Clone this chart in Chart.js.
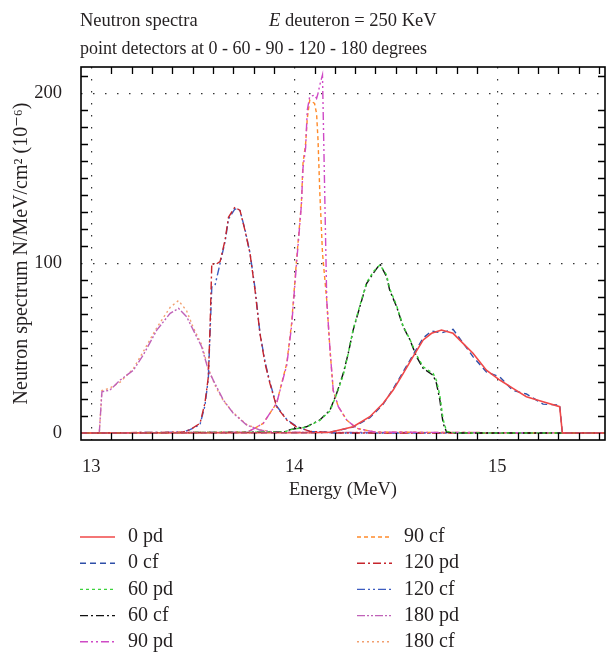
<!DOCTYPE html>
<html>
<head>
<meta charset="utf-8">
<script src="https://cdn.jsdelivr.net/npm/chart.js@4.4.0/dist/chart.umd.min.js"></script>
<style>
html, body { margin: 0; padding: 0; background: #fff; }
</style>
</head>
<body>
<canvas id="spectra" width="606" height="654"></canvas>
<script>
// energies (MeV), one list per detector angle
const energy0 = [12.95, 14.10, 14.176, 14.29, 14.372, 14.438, 14.487, 14.536, 14.585, 14.635, 14.676, 14.725, 14.782, 14.831, 14.88, 14.946, 15.012, 15.077, 15.143, 15.225, 15.307, 15.32, 15.53];
const pd0 = [0, 0.2, 0.5, 3.7, 9.6, 17.5, 25.3, 35, 45, 54.8, 58.7, 60.6, 58.7, 52.8, 47, 37, 31.2, 26.3, 21.4, 18.4, 15.5, 0, 0];
const cf0 = [0, 0.2, 0.5, 3.5, 9, 17, 26, 36, 46, 56, 60, 59, 61, 53, 45, 36, 33, 25, 23, 17, 16.5, 0, 0];

const energy60 = [12.95, 13.95, 13.98, 14.06, 14.126, 14.176, 14.209, 14.241, 14.266, 14.29, 14.323, 14.356, 14.389, 14.422, 14.455, 14.47, 14.504, 14.536, 14.57, 14.602, 14.635, 14.684, 14.70, 14.717, 14.733, 14.75, 14.80, 15.53];
const pd60 = [0, 0.5, 2, 3.5, 7.5, 13, 23, 34, 47, 61, 75, 88.5, 95, 99, 93, 85, 75, 63, 55, 46, 39, 35, 31, 22, 8, 1, 0, 0];
const cf60 = [0, 0.5, 2, 3.7, 7.7, 13.5, 23.4, 35, 47, 60.6, 74.4, 88, 94, 99.5, 92, 84, 74.4, 62.6, 54.8, 45, 38, 34, 29.3, 19.4, 5.7, 0.5, 0, 0];

const energy90 = [12.95, 13.77, 13.847, 13.913, 13.963, 13.987, 14.01, 14.035, 14.043, 14.056, 14.064, 14.076, 14.10, 14.11, 14.117, 14.126, 14.139, 14.16, 14.176, 14.192, 14.217, 14.258, 14.307, 14.40, 15.53];
const pd90 = [0, 0.5, 5.7, 17.5, 40, 63, 98, 134, 156, 168, 190, 198, 199, 197, 200, 205, 210.8, 78, 49, 25, 15.5, 7.7, 2.8, 0.5, 0];
const cf90 = [0, 0.5, 5.7, 17.5, 41, 64.6, 100, 135, 158.8, 170.5, 185, 196, 194, 188, 172.5, 141, 106, 78, 49, 25, 15.5, 7.7, 2.8, 0.5, 0];

const energy120 = [12.95, 13.45, 13.487, 13.536, 13.56, 13.577, 13.585, 13.594, 13.61, 13.635, 13.66, 13.676, 13.708, 13.733, 13.757, 13.782, 13.807, 13.831, 13.856, 13.88, 13.913, 13.963, 14.01, 14.077, 14.20, 15.53];
const pd120 = [0, 0.5, 2, 5.7, 17.5, 33, 60.6, 100, 99, 101, 114, 127, 133, 131, 119.5, 105.8, 84, 58.7, 41, 29.3, 15.5, 7.7, 3.7, 1, 0, 0];
const cf120 = [0, 0.5, 2, 5, 16, 32, 58, 86, 87, 100, 113, 126, 132, 131, 120, 106, 85, 59, 42, 30, 16, 8, 4, 1, 0, 0];

const energy180 = [12.95, 13.04, 13.053, 13.093, 13.143, 13.208, 13.257, 13.323, 13.389, 13.43, 13.47, 13.503, 13.544, 13.577, 13.61, 13.651, 13.70, 13.766, 13.83, 13.90, 15.53];
const pd180 = [0, 0, 24.3, 25.3, 31.2, 37, 46, 60.6, 70.5, 73.4, 68.5, 60.6, 50.8, 37, 29, 19.4, 11.6, 4.7, 1.8, 0.5, 0];
const cf180 = [0, 0, 25, 26.5, 30, 38, 48, 62, 74, 78, 72, 62, 52, 38, 28, 19, 12, 5, 2, 0.5, 0];

const xTicks = [13, 14, 15];
const yTicks = [0, 100, 200];

const SERIF = "'Liberation Serif', 'DejaVu Serif', serif";
const INK = '#231f20';

function pts(xs, ys) {
    return xs.map((x, i) => ({ x: x, y: ys[i] }));
}

function series(label, xs, ys, color, dash, width) {
    return {
        label: label,
        data: pts(xs, ys),
        borderColor: color,
        backgroundColor: color,
        borderDash: dash,
        borderWidth: width || 1.4,
        pointRadius: 0,
        tension: 0,
        fill: false
    };
}

const datasets = [
    series('0 pd', energy0, pd0, '#f04848', [], 1.6),
    series('0 cf', energy0, cf0, '#2e4fa8', [6, 4]),
    series('60 pd', energy60, pd60, '#3cd23c', [3, 3]),
    series('60 cf', energy60, cf60, '#111111', [8, 3, 2, 3]),
    series('90 pd', energy90, pd90, '#cf4ac6', [8, 3, 2, 3, 2, 3]),
    series('90 cf', energy90, cf90, '#ff8a2a', [4, 3]),
    series('120 pd', energy120, pd120, '#c6252c', [8, 3, 2, 3]),
    series('120 cf', energy120, cf120, '#3d5cc0', [8, 3, 2, 3, 2, 3]),
    series('180 pd', energy180, pd180, '#c062b8', [8, 2, 2, 2, 2, 2]),
    series('180 cf', energy180, cf180, '#f2a070', [2, 3])
];

// header lines, inside ticks, frame and the two-column legend
const decorations = {
    id: 'decorations',
    afterDraw(chart) {
        const ctx = chart.ctx;
        const area = chart.chartArea;
        const xs = chart.scales.x;
        const ys = chart.scales.y;
        ctx.save();

        // ticks pointing inward on all four sides
        ctx.strokeStyle = '#000';
        ctx.lineWidth = 1.3;
        ctx.beginPath();
        for (let k = 130; k <= 155; k++) {
            if (k % 10 === 0) continue;
            const px = Math.round(xs.getPixelForValue(k / 10)) + 0.5;
            ctx.moveTo(px, area.bottom); ctx.lineTo(px, area.bottom - 7);
            ctx.moveTo(px, area.top); ctx.lineTo(px, area.top + 7);
        }
        for (let v = 10; v <= 210; v += 10) {
            if (v % 100 === 0) continue;
            const py = Math.round(ys.getPixelForValue(v)) + 0.5;
            ctx.moveTo(area.left, py); ctx.lineTo(area.left + 7, py);
            ctx.moveTo(area.right, py); ctx.lineTo(area.right - 7, py);
        }
        ctx.stroke();

        ctx.lineWidth = 1.6;
        ctx.strokeRect(area.left, area.top, area.right - area.left, area.bottom - area.top);

        // header
        ctx.fillStyle = INK;
        ctx.textBaseline = 'middle';
        ctx.textAlign = 'left';
        ctx.font = '18.5px ' + SERIF;
        ctx.fillText('Neutron spectra', 80, 21);
        ctx.font = 'italic 18.5px ' + SERIF;
        ctx.fillText('E', 269, 21);
        const ew = ctx.measureText('E').width;
        ctx.font = '18.5px ' + SERIF;
        ctx.fillText(' deuteron = 250 KeV', 269 + ew, 21);
        ctx.font = '18px ' + SERIF;
        ctx.fillText('point detectors at 0 - 60 - 90 - 120 - 180 degrees', 80, 49);

        // legend, five rows per column
        const colLine = [80, 357];
        const colText = [128, 404];
        ctx.font = '20px ' + SERIF;
        chart.data.datasets.forEach((ds, i) => {
            const col = i < 5 ? 0 : 1;
            const y = 537 + (i % 5) * 26.2;
            ctx.strokeStyle = ds.borderColor;
            ctx.lineWidth = ds.borderWidth;
            ctx.setLineDash(ds.borderDash);
            ctx.beginPath();
            ctx.moveTo(colLine[col], y);
            ctx.lineTo(colLine[col] + 35, y);
            ctx.stroke();
            ctx.setLineDash([]);
            ctx.fillStyle = INK;
            ctx.fillText(ds.label, colText[col], y);
        });
        ctx.restore();
    }
};

new Chart(document.getElementById('spectra').getContext('2d'), {
    type: 'line',
    data: { datasets: datasets },
    options: {
        responsive: false,
        animation: false,
        devicePixelRatio: 1,
        layout: { padding: { left: 10, top: 67, right: 1, bottom: 152 } },
        plugins: {
            legend: { display: false },
            title: { display: false },
            tooltip: { enabled: false }
        },
        scales: {
            x: {
                type: 'linear',
                min: 12.95,
                max: 15.53,
                afterFit: (scale) => { scale.height = 62; },
                afterBuildTicks: (scale) => { scale.ticks = xTicks.map(v => ({ value: v })); },
                ticks: {
                    includeBounds: false,
                    padding: 16,
                    color: INK,
                    font: { family: SERIF, size: 18.5 },
                    callback: (v) => String(v)
                },
                grid: { drawTicks: false, color: '#333', lineWidth: 1.2 },
                border: { display: false, dash: [1.5, 10.5] },
                title: {
                    display: true,
                    text: 'Energy (MeV)',
                    color: INK,
                    font: { family: SERIF, size: 18.5 },
                    padding: { top: 0, bottom: 1 }
                }
            },
            y: {
                min: -4.1,
                max: 215.5,
                afterFit: (scale) => { scale.width = 71; },
                afterBuildTicks: (scale) => { scale.ticks = yTicks.map(v => ({ value: v })); },
                ticks: {
                    padding: 19,
                    color: INK,
                    font: { family: SERIF, size: 18.5 },
                    callback: (v) => String(v)
                },
                grid: { drawTicks: false, color: '#333', lineWidth: 1.2 },
                border: { display: false, dash: [1.5, 10.5] },
                title: {
                    display: true,
                    text: 'Neutron spectrum N/MeV/cm\u00B2 (10\u207B\u2076)',
                    color: INK,
                    font: { family: SERIF, size: 20 },
                    padding: { top: 0, bottom: 0 }
                }
            }
        }
    },
    plugins: [decorations]
});
</script>
</body>
</html>
